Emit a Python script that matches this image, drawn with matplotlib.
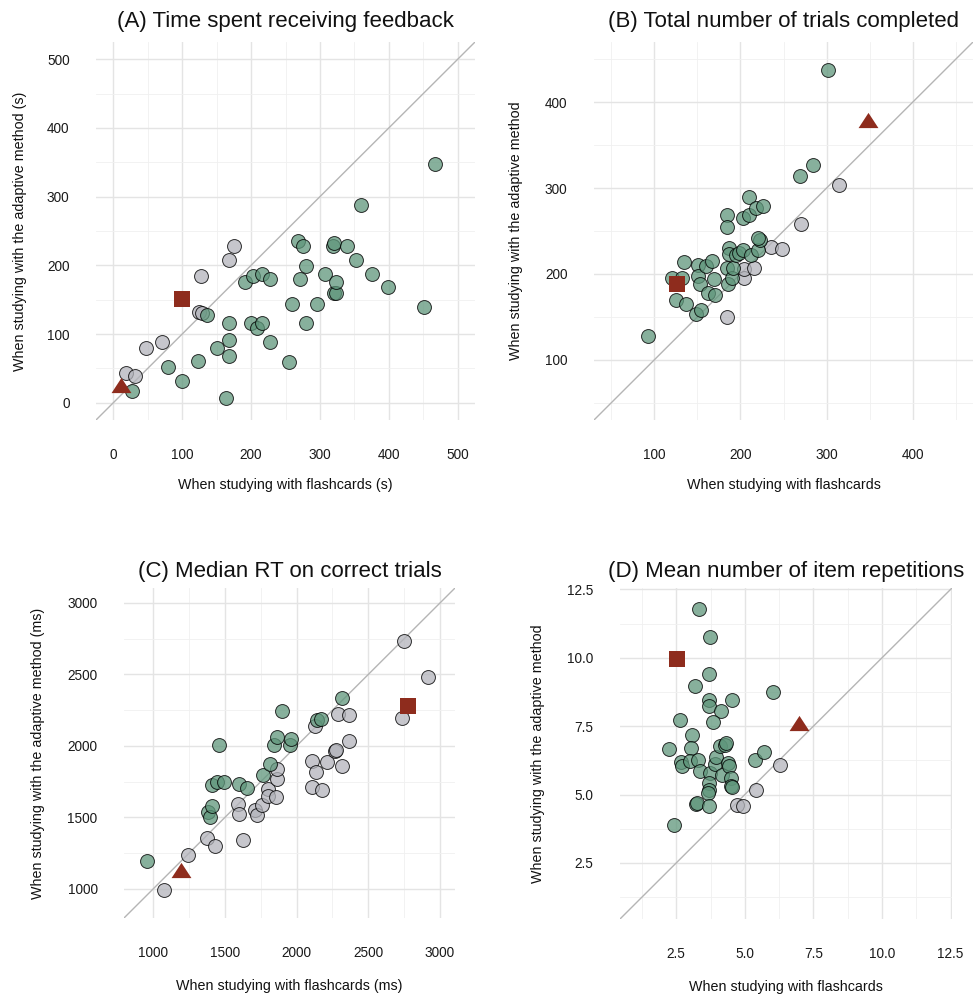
import matplotlib
matplotlib.use("Agg")
import matplotlib.pyplot as plt
from matplotlib.ticker import FixedLocator, FormatStrFormatter

plt.rcParams['font.family'] = ['Liberation Sans', 'DejaVu Sans']

# (A) time spent receiving feedback (s): flashcards vs adaptive
a_green_x = [27.6, 79.5, 99.2, 123.4, 135.5, 151, 167.5, 167.5, 167.5, 164, 191.5, 203.3, 216.4, 227.5,
             199.9, 208.1, 215.4, 227.5, 255.6, 259.9, 267.7, 275.9, 279.8, 271.6, 279.8, 295.3, 307.8,
             319.5, 320.9, 320, 323.3, 323.3, 339.8, 351.9, 359.6, 376.1, 399.3, 451.1, 467.6]
a_green_y = [16.5, 52, 32, 60.5, 127.8, 79.9, 92, 67.8, 115.7, 7.7, 176, 183.9, 187.8, 180,
             115.7, 108.9, 115.7, 88.1, 60, 143.8, 235.7, 228, 199.4, 180, 115.7, 143.8, 187.8,
             227.5, 232.3, 159.7, 159.7, 175.7, 228, 208.1, 288, 187.8, 168, 139.9, 348]
a_gray_x = [18.8, 31.5, 47.5, 71.5, 124.4, 128.3, 127.3, 167.8, 175.7]
a_gray_y = [44, 39.7, 79.9, 88, 132.1, 130.7, 183.9, 208.1, 228]
a_square = (100.5, 151)
a_triangle = (11.9, 26)

# (B) total number of trials completed
b_green_x = [93, 120, 131.6, 125.1, 136.5, 135, 148, 154.1, 151, 150.3, 152.9, 159.9, 167.2, 169.2,
             162.7, 170.3, 184.8, 184, 186.2, 183.9, 185.5, 189.7, 186.5, 191.5, 194.5, 198.5, 203.1,
             203.1, 209.8, 209.8, 212.8, 220.5, 222.4, 220.5, 218.6, 226.5, 268.7, 284.2, 301.5]
b_green_y = [127.5, 195.6, 195.2, 169.7, 165, 214.2, 153.5, 158.1, 211, 198, 187.9, 209.2, 215.5, 194.5,
             178, 175.3, 268.4, 254.7, 230.5, 207.3, 188.5, 195.7, 223, 207.3, 221.5, 224.7, 227.8,
             265, 290, 269.2, 222, 228.3, 240, 241.5, 277, 279.6, 313.7, 327.3, 437.6]
b_gray_x = [183.9, 204.3, 204.3, 215.8, 236, 248.2, 269.9, 314.3]
b_gray_y = [150.4, 195.6, 205.5, 207.2, 231, 229.3, 257.6, 304]
b_square = (126.6, 188.7)
b_triangle = (348.6, 379.5)

# (C) median RT on correct trials (ms)
c_green_x = [953, 1384, 1398, 1412, 1407, 1445, 1495, 1461, 1600, 1654, 1762, 1814, 1843, 1860,
             1900, 1951, 1957, 2140, 2168, 2316]
c_green_y = [1191, 1537, 1505, 1576, 1724, 1747, 1745, 2003, 1731, 1703, 1796, 1872, 2009, 2062,
             2245, 2005, 2047, 2181, 2191, 2337]
c_gray_x = [1074, 1242, 1372, 1427, 1628, 1589, 1599, 1710, 1724, 1758, 1800, 1798, 1855, 1865, 1866,
            2107, 2135, 2105, 2175, 2210, 2267, 2274, 2319, 2367, 2128, 2286, 2365, 2737, 2751, 2914]
c_gray_y = [988, 1233, 1355, 1298, 1344, 1590, 1523, 1553, 1517, 1583, 1698, 1651, 1644, 1770, 1840,
            1891, 1815, 1715, 1693, 1884, 1965, 1970, 1860, 2035, 2137, 2221, 2214, 2198, 2737, 2484]
c_square = (2780, 2280)
c_triangle = (1194, 1133)

# (D) mean number of item repetitions
d_green_x = [3.33, 3.73, 3.71, 3.18, 3.7, 3.7, 4.52, 4.12, 3.83, 6.04, 2.62, 3.07, 2.23, 3.03,
             2.68, 2.72, 2.99, 3.29, 3.36, 3.72, 3.68, 3.68, 3.67, 3.21, 3.26, 3.71, 3.91, 3.94,
             4.09, 4.27, 4.33, 4.18, 4.39, 4.43, 4.48, 4.51, 4.52, 5.37, 5.71, 2.4]
d_green_y = [11.78, 10.77, 9.41, 8.95, 8.46, 8.25, 8.44, 8.07, 7.66, 8.74, 7.73, 7.18, 6.65, 6.70,
             6.18, 6.03, 6.22, 6.27, 5.87, 5.78, 5.42, 5.16, 5.06, 4.67, 4.69, 4.59, 6.13, 6.39,
             6.76, 6.82, 6.88, 5.73, 6.15, 6.03, 5.6, 5.32, 5.27, 6.27, 6.55, 3.9]
d_gray_x = [4.7, 4.94, 5.39, 6.29]
d_gray_y = [4.6, 4.59, 5.15, 6.09]
d_square = (2.52, 9.95)
d_triangle = (6.99, 7.6)

GREEN = (0x5f / 255, 0x96 / 255, 0x7b / 255, 0.75)
GRAY = (0xb3 / 255, 0xb4 / 255, 0xbb / 255, 0.75)
EDGE = (0, 0, 0, 0.8)
RED = '#8e2c1d'
TRI = [(-1, -0.765), (1, -0.765), (0, 0.765)]

W, H = 974, 994
fig = plt.figure(figsize=(W / 100, H / 100), dpi=100)


def px_rect(left, top, right, bottom):
    return [left / W, 1 - bottom / H, (right - left) / W, (bottom - top) / H]


def panel(rect, title, xlabel, ylabel, gx, gy, hx, hy, square, triangle,
          lim, major, minor, fmt, xlab_pos, ylab_pos, title_pad):
    ax = fig.add_axes(rect)
    ax.set_xlim(lim)
    ax.set_ylim(lim)
    for axis in (ax.xaxis, ax.yaxis):
        axis.set_major_locator(FixedLocator(major))
        axis.set_minor_locator(FixedLocator(minor))
        axis.set_major_formatter(FormatStrFormatter(fmt))
    ax.grid(which='major', color='#e4e4e4', lw=1.0)
    ax.grid(which='minor', color='#f0f0f0', lw=0.6)
    ax.set_axisbelow(True)
    for s in ax.spines.values():
        s.set_visible(False)
    ax.tick_params(which='both', length=0, labelsize=9.8, labelcolor='#1a1a1a')
    ax.tick_params(axis='x', pad=20)
    ax.tick_params(axis='y', pad=19)

    ax.axline((lim[0], lim[0]), slope=1, color='#b5b5b5', lw=1.0, zorder=1)
    ax.scatter(hx, hy, s=100, facecolor=GRAY, edgecolor=EDGE, linewidth=0.7, zorder=2)
    ax.scatter(gx, gy, s=100, facecolor=GREEN, edgecolor=EDGE, linewidth=0.7, zorder=3)
    ax.scatter([square[0]], [square[1]], s=118, marker='s', color=RED, linewidth=0, zorder=4)
    ax.scatter([triangle[0]], [triangle[1]], s=205, marker=TRI, color=RED, linewidth=0, zorder=4)

    ax.set_title(title, fontsize=16, pad=title_pad, color='#111111')
    ax.set_xlabel(xlabel, fontsize=10.3, color='#111111')
    ax.set_ylabel(ylabel, fontsize=10.3, color='#111111')
    ax.xaxis.set_label_coords(0.5, xlab_pos)
    ax.yaxis.set_label_coords(ylab_pos, 0.5)
    ax.xaxis.label.set_va('center')
    ax.yaxis.label.set_va('center')
    return ax


panel(px_rect(96, 42, 475, 420), '(A) Time spent receiving feedback',
      'When studying with flashcards (s)', 'When studying with the adaptive method (s)',
      a_green_x, a_green_y, a_gray_x, a_gray_y, a_square, a_triangle,
      (-25, 525), [0, 100, 200, 300, 400, 500], [50, 150, 250, 350, 450], '%d',
      -0.172, -0.2, 11)

panel(px_rect(594, 42, 973, 420), '(B) Total number of trials completed',
      'When studying with flashcards', 'When studying with the adaptive method',
      b_green_x, b_green_y, b_gray_x, b_gray_y, b_square, b_triangle,
      (30, 470), [100, 200, 300, 400], [50, 150, 250, 350, 450], '%d',
      -0.172, -0.205, 11)

panel(px_rect(124, 588, 455, 918), '(C) Median RT on correct trials',
      'When studying with flashcards (ms)', 'When studying with the adaptive method (ms)',
      c_green_x, c_green_y, c_gray_x, c_gray_y, c_square, c_triangle,
      (795, 3105), [1000, 1500, 2000, 2500, 3000], [1250, 1750, 2250, 2750], '%d',
      -0.207, -0.26, 8)

panel(px_rect(620, 588, 952, 919), '(D) Mean number of item repetitions',
      'When studying with flashcards', 'When studying with the adaptive method',
      d_green_x, d_green_y, d_gray_x, d_gray_y, d_square, d_triangle,
      (0.45, 12.55), [2.5, 5.0, 7.5, 10.0, 12.5], [1.25, 3.75, 6.25, 8.75, 11.25], '%.1f',
      -0.204, -0.247, 8)

fig.savefig('out.png', dpi=100)
